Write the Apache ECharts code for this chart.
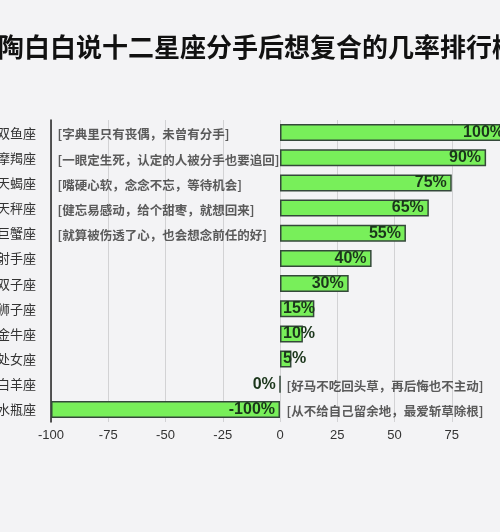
<!DOCTYPE html>
<html>
<head>
<meta charset="utf-8">
<script src="https://cdn.jsdelivr.net/npm/echarts@6/dist/echarts.min.js"></script>
<style>
html,body{margin:0;padding:0;background:#f3f3f5;}
#c{width:500px;height:532px;}
</style>
</head>
<body>
<div id="c"></div>
<script>
var titleText = '陶白白说十二星座分手后想复合的几率排行榜';
var categories = ['双鱼座','摩羯座','天蝎座','天秤座','巨蟹座','射手座','双子座','狮子座','金牛座','处女座','白羊座','水瓶座'];
var values = [100, 90, 75, 65, 55, 40, 30, 15, 10, 5, 0, -100];
var notes = ['[字典里只有丧偶，未曾有分手]','[一眼定生死，认定的人被分手也要追回]','[嘴硬心软，念念不忘，等待机会]','[健忘易感动，给个甜枣，就想回来]','[就算被伤透了心，也会想念前任的好]','','','','','','[好马不吃回头草，再后悔也不主动]','[从不给自己留余地，最爱斩草除根]'];
var xTicks = [-100, -75, -50, -25, 0, 25, 50, 75];

var barData = values.map(function (v) {
  var item = { value: v };
  if (v > 0 && v < 20) {
    item.label = { position: 'insideLeft', distance: 3 };
  }
  return item;
});

var noteData = [];
notes.forEach(function (n, i) {
  if (!n) return;
  var anchor = values[i] > 0 ? -100 : 0;
  noteData.push({ value: [anchor, categories[i]], note: n });
});

var chart = echarts.init(document.getElementById('c'), null, { renderer: 'canvas' });
chart.setOption({
  backgroundColor: '#f3f3f5',
  animation: false,
  title: {
    text: titleText,
    left: -7,
    top: 29,
    textStyle: { fontSize: 26, fontWeight: 'bold', color: '#111', fontFamily: 'Noto Sans CJK SC' }
  },
  grid: { left: 51, top: 120, width: 458, height: 302, containLabel: false, outerBoundsMode: 'none' },
  xAxis: {
    type: 'value',
    min: -100,
    max: 100,
    interval: 25,
    axisLine: { show: false },
    axisTick: { show: false },
    splitLine: { show: true, lineStyle: { color: '#d2d2d4', width: 1 } },
    axisLabel: {
      margin: 7,
      fontSize: 13,
      color: '#333',
      fontFamily: 'Liberation Sans',
      formatter: function (v) { return xTicks.indexOf(v) >= 0 ? String(v) : ''; }
    }
  },
  yAxis: {
    type: 'category',
    data: categories,
    inverse: true,
    axisLine: { show: true, onZero: false, lineStyle: { color: '#222', width: 1.5 } },
    axisTick: { show: false },
    axisLabel: { margin: 15, fontSize: 13, color: '#333', fontFamily: 'Noto Sans CJK SC' }
  },
  series: [
    {
      type: 'bar',
      data: barData,
      barWidth: 17,
      itemStyle: { color: '#78ef5a', borderColor: '#34483a', borderWidth: 1.5 },
      label: {
        show: true,
        position: 'insideRight',
        distance: 5,
        formatter: function (p) { return p.value + '%'; },
        fontSize: 16,
        fontWeight: 'bold',
        color: '#1b361b',
        fontFamily: 'Liberation Sans'
      },
      z: 2
    },
    {
      type: 'scatter',
      data: noteData,
      symbolSize: 1,
      itemStyle: { color: 'rgba(0,0,0,0)' },
      silent: true,
      label: {
        show: true,
        position: 'right',
        distance: 6,
        offset: [0, 2],
        formatter: function (p) { return p.data.note; },
        fontSize: 12.5,
        fontWeight: 'bold',
        color: '#333',
        fontFamily: 'Noto Sans CJK SC'
      },
      z: 3
    }
  ]
});
</script>
</body>
</html>
